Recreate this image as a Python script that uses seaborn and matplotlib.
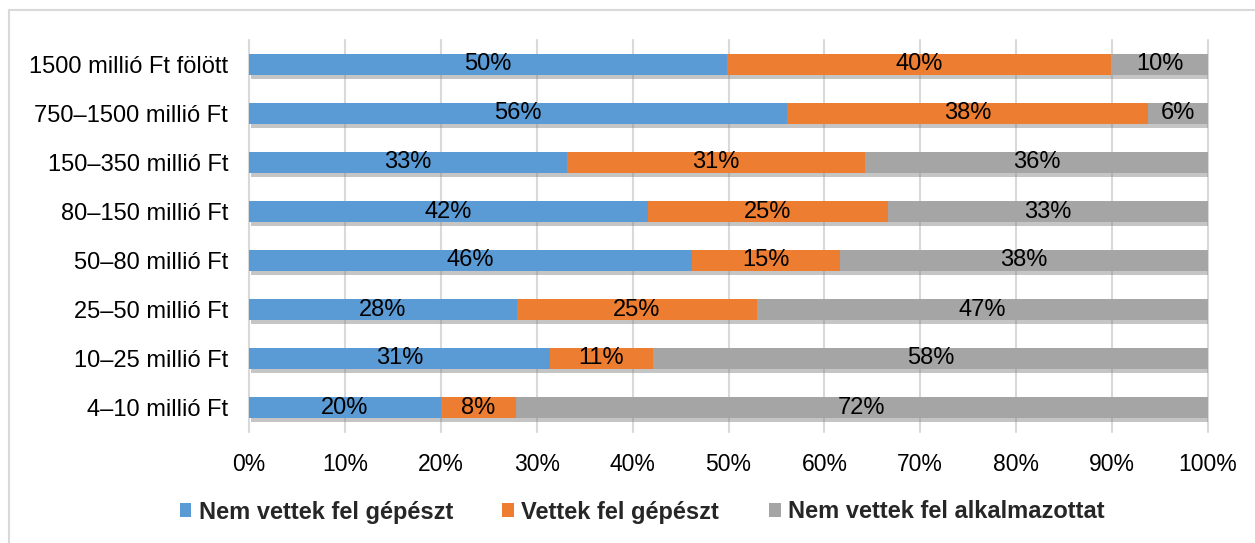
import matplotlib
matplotlib.use("Agg")
import matplotlib.pyplot as plt
import matplotlib.patheffects as pe
from matplotlib.patches import Patch
from matplotlib.lines import Line2D
import numpy as np
import pandas as pd
import seaborn as sns

categories = [
    "1500 millió Ft fölött",
    "750–1500 millió Ft",
    "150–350 millió Ft",
    "80–150 millió Ft",
    "50–80 millió Ft",
    "25–50 millió Ft",
    "10–25 millió Ft",
    "4–10 millió Ft",
]
series_names = ["Nem vettek fel gépészt", "Vettek fel gépészt", "Nem vettek fel alkalmazottat"]
nem_vettek_gepeszt = [49.8, 56.1, 33.2, 41.6, 46.2, 27.9, 31.4, 20.0]
vettek_gepeszt = [40.1, 37.6, 31.0, 25.0, 15.4, 25.1, 10.7, 7.8]
nem_vettek_alkalmazottat = [10.1, 6.3, 35.8, 33.4, 38.4, 47.0, 57.9, 72.2]
x_ticks = [0, 10, 20, 30, 40, 50, 60, 70, 80, 90, 100]
colors = ["#5B9BD5", "#ED7D31", "#A5A5A5"]

sns.set_theme(style="white")
plt.rcParams["font.family"] = ["Liberation Sans", "DejaVu Sans"]

W, H = 1255, 543
fig = plt.figure(figsize=(W / 100, H / 100), dpi=100)
ax = fig.add_axes([249 / W, 1 - 432 / H, 959 / W, 392 / H])

df = pd.DataFrame({
    "cat": categories,
    "a": nem_vettek_gepeszt,
    "b": vettek_gepeszt,
    "c": nem_vettek_alkalmazottat,
})
df["cum1"] = df["a"]
df["cum2"] = df["a"] + df["b"]
df["cum3"] = df["a"] + df["b"] + df["c"]

layers = [("cum3", colors[2]), ("cum2", colors[1]), ("cum1", colors[0])]
for k, (col, color) in enumerate(layers):
    n_before = len(ax.patches)
    sns.barplot(data=df, x=col, y="cat", orient="h", color=color, saturation=1,
                width=0.43, ax=ax, linewidth=0)
    if k == 0:
        for p in ax.patches[n_before:]:
            p.set_path_effects([
                pe.SimplePatchShadow(offset=(1.5, -2.5), shadow_rgbFace="#7f7f7f", alpha=0.45),
                pe.Normal(),
            ])

# segment labels
starts = [np.zeros(len(df)), df["cum1"].values, df["cum2"].values]
vals = [df["a"].values, df["b"].values, df["c"].values]
for st, v in zip(starts, vals):
    for i, (s, val) in enumerate(zip(st, v)):
        ax.text(s + val / 2, i, f"{round(val)}%", ha="center", va="center",
                fontsize=17, color="black")

ax.set_xlim(0, 100)
ax.set_ylim(7.5, -0.5)
ax.set_xticks(x_ticks)
ax.set_xticklabels([f"{t}%" for t in x_ticks])
ax.set_xlabel("")
ax.set_ylabel("")
ax.tick_params(axis="x", length=0, pad=15, labelsize=16.5, colors="black")
ax.tick_params(axis="y", length=0, pad=15, labelsize=17, colors="black")
for s in ax.spines.values():
    s.set_visible(False)
ax.xaxis.grid(True, color="#D9D9D9", linewidth=1.5)
ax.yaxis.grid(False)
ax.set_axisbelow(True)
for gl in ax.get_xgridlines():
    gl.set_clip_on(False)

handles = [Patch(facecolor=c, edgecolor="none") for c in colors]
fig.legend(handles, series_names, loc="center",
           bbox_to_anchor=(642 / W, 1 - 512 / H), ncol=3, frameon=False,
           prop={"weight": "bold", "size": 17},
           handlelength=0.5, handleheight=0.5, handletextpad=0.3,
           columnspacing=2.1)

# outer border (top and left visible)
fig.add_artist(Line2D([9 / W, 1], [1 - 10 / H, 1 - 10 / H], color="#D9D9D9",
                      linewidth=1.5, transform=fig.transFigure))
fig.add_artist(Line2D([9 / W, 9 / W], [1 - 10 / H, 0], color="#D9D9D9",
                      linewidth=1.5, transform=fig.transFigure))

fig.savefig("out.png", dpi=100)
